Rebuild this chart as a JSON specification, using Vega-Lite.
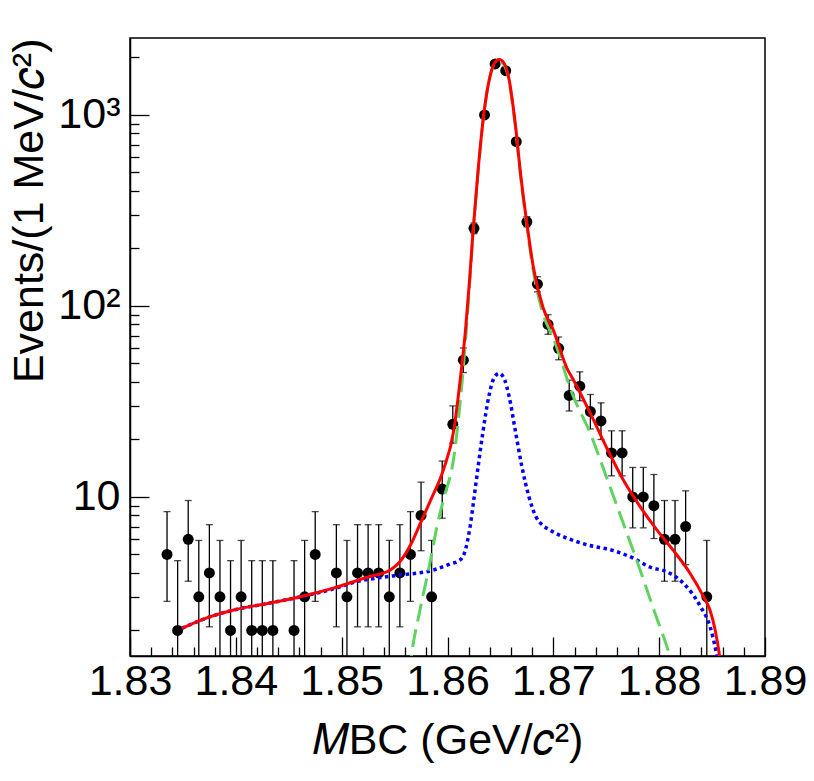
{
  "$schema": "https://vega.github.io/schema/vega-lite/v6.json",
  "width": 635,
  "height": 618,
  "autosize": {"type": "none"},
  "padding": {"left": 130, "top": 38, "right": 49, "bottom": 125},
  "background": "white",
  "datasets": {
    "points": [
      {"m": 1.8335, "n": 5, "lo": 2.84, "hi": 8.38},
      {"m": 1.8345, "n": 2, "lo": 0.71, "hi": 4.64},
      {"m": 1.8355, "n": 6, "lo": 3.62, "hi": 9.58},
      {"m": 1.8365, "n": 3, "lo": 1.37, "hi": 5.92},
      {"m": 1.8375, "n": 4, "lo": 2.09, "hi": 7.16},
      {"m": 1.8385, "n": 3, "lo": 1.37, "hi": 5.92},
      {"m": 1.8395, "n": 2, "lo": 0.71, "hi": 4.64},
      {"m": 1.8405, "n": 3, "lo": 1.37, "hi": 5.92},
      {"m": 1.8415, "n": 2, "lo": 0.71, "hi": 4.64},
      {"m": 1.8425, "n": 2, "lo": 0.71, "hi": 4.64},
      {"m": 1.8435, "n": 2, "lo": 0.71, "hi": 4.64},
      {"m": 1.8455, "n": 2, "lo": 0.71, "hi": 4.64},
      {"m": 1.8465, "n": 3, "lo": 1.37, "hi": 5.92},
      {"m": 1.8475, "n": 5, "lo": 2.84, "hi": 8.38},
      {"m": 1.8495, "n": 4, "lo": 2.09, "hi": 7.16},
      {"m": 1.8505, "n": 3, "lo": 1.37, "hi": 5.92},
      {"m": 1.8515, "n": 4, "lo": 2.09, "hi": 7.16},
      {"m": 1.8525, "n": 4, "lo": 2.09, "hi": 7.16},
      {"m": 1.8535, "n": 4, "lo": 2.09, "hi": 7.16},
      {"m": 1.8545, "n": 3, "lo": 1.37, "hi": 5.92},
      {"m": 1.8555, "n": 4, "lo": 2.09, "hi": 7.16},
      {"m": 1.8565, "n": 5, "lo": 2.84, "hi": 8.38},
      {"m": 1.8575, "n": 8, "lo": 5.23, "hi": 11.95},
      {"m": 1.8585, "n": 3, "lo": 1.37, "hi": 5.92},
      {"m": 1.8595, "n": 11, "lo": 7.74, "hi": 15.42},
      {"m": 1.8605, "n": 24, "lo": 19.13, "hi": 29.98},
      {"m": 1.8615, "n": 52, "lo": 44.81, "hi": 60.26},
      {"m": 1.8625, "n": 255, "lo": 239.0, "hi": 272.0},
      {"m": 1.8635, "n": 1000, "lo": 968.4, "hi": 1032.6},
      {"m": 1.8645, "n": 1850, "lo": 1807.0, "hi": 1894.0},
      {"m": 1.8655, "n": 1705, "lo": 1663.7, "hi": 1747.3},
      {"m": 1.8665, "n": 725, "lo": 698.1, "hi": 752.9},
      {"m": 1.8675, "n": 276, "lo": 259.4, "hi": 293.6},
      {"m": 1.8685, "n": 130, "lo": 118.6, "hi": 142.4},
      {"m": 1.8695, "n": 80, "lo": 71.1, "hi": 90.0},
      {"m": 1.8705, "n": 60, "lo": 52.3, "hi": 68.8},
      {"m": 1.8715, "n": 34, "lo": 28.2, "hi": 40.9},
      {"m": 1.8725, "n": 38, "lo": 31.9, "hi": 45.2},
      {"m": 1.8735, "n": 28, "lo": 22.7, "hi": 34.4},
      {"m": 1.8745, "n": 25, "lo": 20.0, "hi": 31.1},
      {"m": 1.8755, "n": 17, "lo": 12.9, "hi": 22.2},
      {"m": 1.8765, "n": 17, "lo": 12.9, "hi": 22.2},
      {"m": 1.8775, "n": 10, "lo": 6.89, "hi": 14.27},
      {"m": 1.8785, "n": 10, "lo": 6.89, "hi": 14.27},
      {"m": 1.8795, "n": 9, "lo": 6.06, "hi": 13.11},
      {"m": 1.8805, "n": 6, "lo": 3.62, "hi": 9.58},
      {"m": 1.8815, "n": 6, "lo": 3.62, "hi": 9.58},
      {"m": 1.8825, "n": 7, "lo": 4.42, "hi": 10.77},
      {"m": 1.8845, "n": 3, "lo": 1.37, "hi": 5.92}
    ],
    "total": [
      {"m": 1.8349, "v": 2.05}, {"m": 1.8372, "v": 2.32}, {"m": 1.8398, "v": 2.56},
      {"m": 1.8430, "v": 2.77}, {"m": 1.8461, "v": 3.0}, {"m": 1.8492, "v": 3.33},
      {"m": 1.8524, "v": 3.8}, {"m": 1.8546, "v": 4.15}, {"m": 1.8555, "v": 4.58},
      {"m": 1.8565, "v": 5.6}, {"m": 1.8574, "v": 7.2}, {"m": 1.8584, "v": 9.6},
      {"m": 1.8596, "v": 13.8}, {"m": 1.8606, "v": 22.4}, {"m": 1.8612, "v": 41},
      {"m": 1.8617, "v": 74.7}, {"m": 1.8621, "v": 140}, {"m": 1.8624, "v": 240},
      {"m": 1.8629, "v": 520}, {"m": 1.8634, "v": 980}, {"m": 1.8640, "v": 1580},
      {"m": 1.8644, "v": 1850}, {"m": 1.8649, "v": 1950}, {"m": 1.8653, "v": 1880},
      {"m": 1.8657, "v": 1650}, {"m": 1.8664, "v": 905}, {"m": 1.8669, "v": 495},
      {"m": 1.8675, "v": 271}, {"m": 1.8681, "v": 161}, {"m": 1.8690, "v": 99},
      {"m": 1.8700, "v": 74.8}, {"m": 1.8713, "v": 47}, {"m": 1.8719, "v": 41},
      {"m": 1.8735, "v": 27.4}, {"m": 1.8750, "v": 18.3}, {"m": 1.8766, "v": 12.3},
      {"m": 1.8782, "v": 8.9}, {"m": 1.8798, "v": 6.7}, {"m": 1.8813, "v": 5.28},
      {"m": 1.8829, "v": 4.0}, {"m": 1.8842, "v": 3.0}, {"m": 1.8848, "v": 2.56},
      {"m": 1.8853, "v": 2.0}, {"m": 1.8857, "v": 1.48}, {"m": 1.8859, "v": 1.2}
    ],
    "signal": [
      {"m": 1.8564, "v": 1.2}, {"m": 1.8566, "v": 1.48}, {"m": 1.8574, "v": 2.56},
      {"m": 1.8584, "v": 4.68}, {"m": 1.8590, "v": 7.0}, {"m": 1.8596, "v": 9.6},
      {"m": 1.8606, "v": 16.2}, {"m": 1.8615, "v": 48}, {"m": 1.8621, "v": 133},
      {"m": 1.8624, "v": 235}, {"m": 1.8629, "v": 510}, {"m": 1.8634, "v": 975},
      {"m": 1.8640, "v": 1575}, {"m": 1.8644, "v": 1840}, {"m": 1.8649, "v": 1905},
      {"m": 1.8653, "v": 1840}, {"m": 1.8657, "v": 1615}, {"m": 1.8664, "v": 880},
      {"m": 1.8669, "v": 480}, {"m": 1.8675, "v": 262}, {"m": 1.8681, "v": 153},
      {"m": 1.8690, "v": 92}, {"m": 1.8700, "v": 68}, {"m": 1.8719, "v": 33.5},
      {"m": 1.8735, "v": 21.5}, {"m": 1.8750, "v": 12.8}, {"m": 1.8766, "v": 7.3},
      {"m": 1.8782, "v": 4.15}, {"m": 1.8795, "v": 2.56}, {"m": 1.8810, "v": 1.48},
      {"m": 1.8813, "v": 1.3}
    ],
    "background": [
      {"m": 1.8349, "v": 2.05}, {"m": 1.8372, "v": 2.32}, {"m": 1.8398, "v": 2.56},
      {"m": 1.8430, "v": 2.77}, {"m": 1.8461, "v": 3.0}, {"m": 1.8492, "v": 3.3},
      {"m": 1.8514, "v": 3.6}, {"m": 1.8539, "v": 3.8}, {"m": 1.8555, "v": 3.9},
      {"m": 1.8587, "v": 4.15}, {"m": 1.8602, "v": 4.45}, {"m": 1.8612, "v": 4.68},
      {"m": 1.8617, "v": 5.3}, {"m": 1.8621, "v": 6.8}, {"m": 1.8625, "v": 9.8},
      {"m": 1.8629, "v": 14.5}, {"m": 1.8633, "v": 21}, {"m": 1.8639, "v": 33.5},
      {"m": 1.8644, "v": 42}, {"m": 1.8649, "v": 44.4}, {"m": 1.8654, "v": 41},
      {"m": 1.8658, "v": 34}, {"m": 1.8664, "v": 22.4}, {"m": 1.8670, "v": 14.7},
      {"m": 1.8677, "v": 10}, {"m": 1.8684, "v": 7.8}, {"m": 1.8690, "v": 7.1},
      {"m": 1.8697, "v": 6.7}, {"m": 1.8728, "v": 5.7}, {"m": 1.8760, "v": 5.17},
      {"m": 1.8776, "v": 4.77}, {"m": 1.8791, "v": 4.3}, {"m": 1.8807, "v": 4.06},
      {"m": 1.8823, "v": 3.53}, {"m": 1.8839, "v": 2.67}, {"m": 1.8848, "v": 2.1},
      {"m": 1.8854, "v": 1.52}, {"m": 1.8857, "v": 1.2}
    ]
  },
  "encoding": {
    "x": {
      "field": "m",
      "type": "quantitative",
      "scale": {"domain": [1.83, 1.89], "nice": false, "zero": false},
      "axis": null
    },
    "y": {
      "field": "v",
      "type": "quantitative",
      "scale": {"type": "log", "domain": [1.47, 2530], "nice": false},
      "axis": null
    }
  },
  "layer": [
    {
      "data": {"name": "points"},
      "mark": {"type": "rule", "color": "black", "strokeWidth": 1.3, "clip": true},
      "encoding": {
        "x": {
          "field": "m",
          "type": "quantitative",
          "scale": {"domain": [1.83, 1.89], "nice": false, "zero": false},
          "axis": {
            "orient": "bottom",
            "values": [1.83, 1.84, 1.85, 1.86, 1.87, 1.88, 1.89],
            "format": ".2f",
            "tickSize": -19,
            "labelPadding": 23,
            "title": "𝑀BC (GeV/𝑐²)",
            "titlePadding": 16
          }
        },
        "y": {
          "field": "lo",
          "type": "quantitative",
          "scale": {"type": "log", "domain": [1.47, 2530], "nice": false},
          "axis": {
            "orient": "left",
            "values": [10, 100, 1000],
            "labelExpr": "datum.value == 10 ? '10' : datum.value == 100 ? '10²' : '10³'",
            "tickSize": -19,
            "labelPadding": 29,
            "title": "Events/(1 MeV/𝑐²)",
            "titleAnchor": "end",
            "titlePadding": 6
          }
        },
        "y2": {"field": "hi"}
      }
    },
    {
      "data": {"name": "points"},
      "mark": {"type": "tick", "orient": "horizontal", "color": "black", "size": 7, "thickness": 1.3, "clip": true},
      "encoding": {
        "x": {
          "field": "m",
          "type": "quantitative",
          "scale": {"domain": [1.83, 1.89], "nice": false, "zero": false},
          "axis": {
            "orient": "bottom",
            "values": [1.832, 1.834, 1.836, 1.838, 1.842, 1.844, 1.846, 1.848, 1.852, 1.854, 1.856, 1.858, 1.862, 1.864, 1.866, 1.868, 1.872, 1.874, 1.876, 1.878, 1.882, 1.884, 1.886, 1.888],
            "labels": false,
            "domain": false,
            "tickSize": -9,
            "title": null
          }
        },
        "y": {
          "field": "lo",
          "type": "quantitative",
          "scale": {"type": "log", "domain": [1.47, 2530], "nice": false},
          "axis": {
            "orient": "left",
            "values": [2, 3, 4, 5, 6, 7, 8, 9, 20, 30, 40, 50, 60, 70, 80, 90, 200, 300, 400, 500, 600, 700, 800, 900, 2000],
            "labels": false,
            "domain": false,
            "tickSize": -9,
            "title": null
          }
        }
      }
    },
    {
      "data": {"name": "points"},
      "mark": {"type": "tick", "orient": "horizontal", "color": "black", "size": 7, "thickness": 1.3, "clip": true},
      "encoding": {
        "y": {
          "field": "hi",
          "type": "quantitative",
          "scale": {"type": "log", "domain": [1.47, 2530], "nice": false},
          "axis": null
        }
      }
    },
    {
      "data": {"name": "points"},
      "mark": {"type": "point", "shape": "circle", "filled": true, "color": "black", "opacity": 1, "size": 120, "clip": true},
      "encoding": {
        "y": {
          "field": "n",
          "type": "quantitative",
          "scale": {"type": "log", "domain": [1.47, 2530], "nice": false},
          "axis": null
        }
      }
    },
    {
      "data": {"name": "background"},
      "mark": {"type": "line", "color": "#0000ff", "strokeWidth": 3.5, "strokeDash": [3.5, 3.5], "strokeCap": "butt", "interpolate": "monotone", "clip": true}
    },
    {
      "data": {"name": "signal"},
      "mark": {"type": "line", "color": "#5fd35f", "strokeWidth": 3, "strokeDash": [18, 8], "interpolate": "monotone", "clip": true}
    },
    {
      "data": {"name": "total"},
      "mark": {"type": "line", "color": "#ff0000", "strokeWidth": 3, "interpolate": "monotone", "clip": true}
    }
  ],
  "resolve": {"axis": {"x": "independent", "y": "independent"}},
  "config": {
    "font": "Liberation Sans",
    "view": {"stroke": "black", "strokeWidth": 1.5},
    "axis": {
      "labelFont": "Liberation Sans",
      "titleFont": "Liberation Sans",
      "labelFontSize": 43,
      "titleFontSize": 43,
      "titleFontWeight": "normal",
      "labelColor": "black",
      "titleColor": "black",
      "tickColor": "black",
      "domainColor": "black",
      "domainWidth": 1.5,
      "tickWidth": 1.3,
      "grid": false,
      "labelOverlap": false,
      "labelFlush": false
    }
  }
}
